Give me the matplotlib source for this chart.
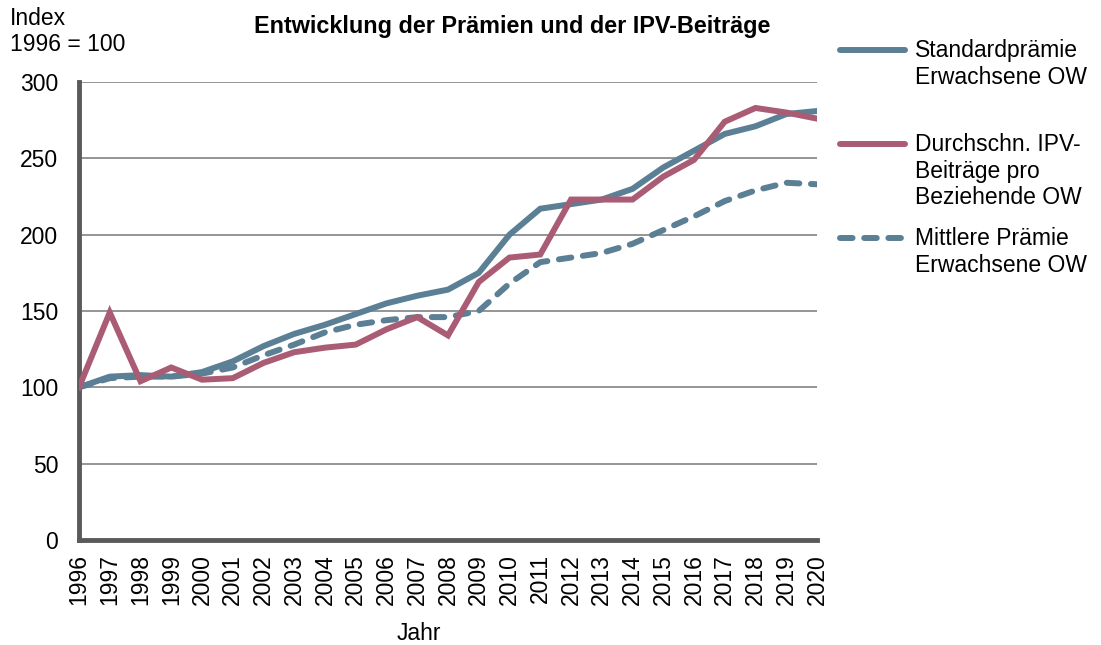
import matplotlib.pyplot as plt
import numpy as np
from matplotlib.lines import Line2D

plt.rcParams['font.family'] = ['Liberation Sans', 'DejaVu Sans']

# Data (Index 1996 = 100)
years = list(range(1996, 2021))
standard = [100, 107, 108, 107, 110, 117, 127, 135, 141, 148, 155, 160, 164,
            175, 200, 217, 220, 223, 230, 244, 255, 266, 271, 279, 281]
ipv = [100, 149, 104, 113, 105, 106, 116, 123, 126, 128, 138, 146, 134,
       169, 185, 187, 223, 223, 223, 238, 249, 274, 283, 280, 276]
mittlere = [100, 106, 107, 107, 109, 113, 121, 128, 136, 141, 144, 146, 146,
            150, 168, 182, 185, 188, 194, 203, 212, 222, 229, 234, 233]

labels = ['Standardprämie\nErwachsene OW',
          'Durchschn. IPV-\nBeiträge pro\nBeziehende OW',
          'Mittlere Prämie\nErwachsene OW']

blue = '#5b7f94'
red = '#a95c73'
fs = 16.5
lw = 4.3
dash = (0, (2.1, 1.95))

fig = plt.figure(figsize=(11.01, 6.45), dpi=100)
ax = fig.add_axes([79 / 1101, 1 - 540 / 645, (817 - 79) / 1101, (540 - 82) / 645])

ax.plot(years, standard, color=blue, lw=lw, solid_joinstyle='miter', zorder=3)
ax.plot(years, ipv, color=red, lw=lw, solid_joinstyle='miter', zorder=4)
ax.plot(years, mittlere, color=blue, lw=lw, ls=dash,
        dash_capstyle='round', zorder=3)

ax.set_xlim(1996, 2020)
ax.set_ylim(0, 300)
ax.set_yticks(range(0, 301, 50))
ax.set_xticks(years)
ax.set_xticklabels([str(y) for y in years], rotation=90, fontsize=fs)
ax.tick_params(axis='y', labelsize=fs, length=0, pad=15)
ax.tick_params(axis='x', length=0, pad=10)
ax.grid(axis='y', color='#8c8c8c', lw=1.3)
ax.set_axisbelow(True)
for s in ['top', 'right']:
    ax.spines[s].set_visible(False)
for s in ['left', 'bottom']:
    ax.spines[s].set_color('#5a5a5a')
    ax.spines[s].set_linewidth(3.5)
    ax.spines[s].set_capstyle('projecting')

fig.text(512 / 1101, 1 - 26 / 645, 'Entwicklung der Prämien und der IPV-Beiträge',
         fontsize=16.8, fontweight='bold', ha='center', va='center')
fig.text(419 / 1101, 1 - 634 / 645, 'Jahr', fontsize=fs, ha='center', va='center')
fig.text(10 / 1101, 1 - 7 / 645, 'Index\n1996 = 100', fontsize=fs, ha='left',
         va='top', linespacing=1.15)

# Legend drawn manually
entries = [(blue, '-', 50, labels[0]), (red, '-', 144, labels[1]),
           (blue, dash, 238, labels[2])]
for color, ls, ypx, text in entries:
    yf = 1 - ypx / 645
    ln = Line2D([840 / 1101, 905 / 1101], [yf, yf], transform=fig.transFigure,
                color=color, lw=lw, ls=ls, solid_capstyle='round',
                dash_capstyle='round')
    fig.add_artist(ln)
    fig.text(915 / 1101, 1 - (ypx - 11) / 645, text, fontsize=fs, ha='left',
             va='top', linespacing=1.2)

fig.savefig('out.png', dpi=100)
